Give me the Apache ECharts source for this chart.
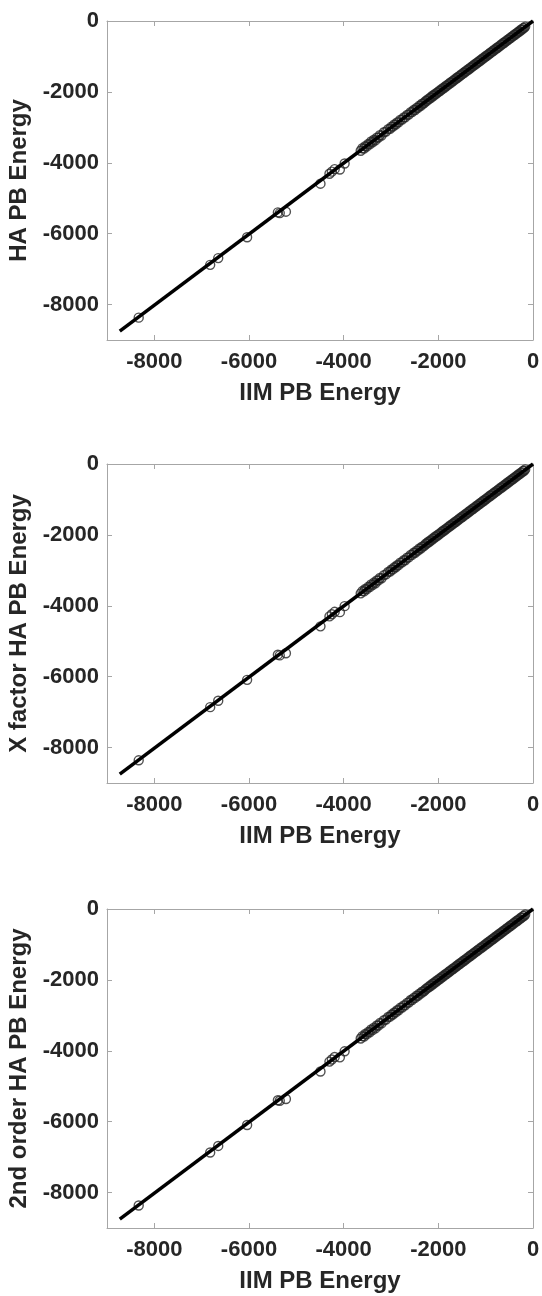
<!DOCTYPE html>
<html>
<head>
<meta charset="utf-8">
<script src="https://cdn.jsdelivr.net/npm/echarts@6/dist/echarts.min.js"></script>
<style>
html,body{margin:0;padding:0;background:#ffffff;}
#chart{width:542px;height:1296px;}
</style>
</head>
<body>
<div id="chart"></div>
<script>
// ---- data ----
const tickValues = [-8000, -6000, -4000, -2000, 0];
const xTitle = 'IIM PB Energy';
const yTitles = ['HA PB Energy', 'X factor HA PB Energy', '2nd order HA PB Energy'];

const iimEnergy = [
  -8330, -6820, -6650, -6040, -5390, -5350, -5220, -4490, -4300, -4250, -4190, -4080, -3980,
  -3640, -3605, -3570, -3545, -3515, -3480, -3450, -3420, -3390, -3360,
  -3330, -3300, -3265, -3235, -3200, -3150, -3105, -3060, -3020, -2990,
  -2960, -2930, -2900, -2870, -2840, -2805, -2765, -2730, -2700, -2660,
  -2625, -2585, -2555, -2520, -2490, -2460, -2430, -2400, -2370, -2345, -2315,
  -2290, -2265, -2242, -2218, -2195, -2170, -2148, -2123, -2100, -2077,
  -2052, -2030, -2006, -1983, -1960, -1936, -1912, -1890, -1866, -1843,
  -1820, -1796, -1772, -1750, -1726, -1703, -1680, -1656, -1632, -1610,
  -1586, -1563, -1540, -1516, -1492, -1470, -1446, -1423, -1400, -1376,
  -1352, -1330, -1306, -1283, -1260, -1236, -1212, -1190, -1166, -1143,
  -1120, -1096, -1072, -1050, -1026, -1003, -980, -956, -932, -910,
  -886, -863, -840, -816, -792, -770, -746, -723, -700, -676,
  -652, -630, -606, -583, -560, -536, -512, -490, -466, -443,
  -420, -396, -372, -350, -326, -303, -280, -256, -232, -210,
  -188, -165
];

const haEnergy = [
  -8370, -6880, -6690, -6100, -5400, -5420, -5380, -4590, -4310, -4250, -4180, -4190, -4020,
  -3660, -3590, -3600, -3530, -3540, -3470, -3480, -3400, -3420, -3350,
  -3370, -3290, -3290, -3220, -3230, -3140, -3120, -3050, -3040, -2980,
  -2980, -2920, -2920, -2860, -2860, -2790, -2780, -2720, -2720, -2650,
  -2640, -2570, -2570, -2510, -2510, -2450, -2450, -2390, -2390, -2335, -2330,
  -2300, -2255, -2250, -2205, -2205, -2160, -2160, -2110, -2110, -2065,
  -2062, -2020, -2015, -1975, -1970, -1925, -1920, -1880, -1875, -1835,
  -1830, -1788, -1780, -1740, -1735, -1695, -1688, -1648, -1640, -1602,
  -1594, -1555, -1548, -1508, -1500, -1462, -1454, -1415, -1408, -1368,
  -1360, -1322, -1314, -1275, -1268, -1228, -1220, -1182, -1174, -1135,
  -1128, -1088, -1080, -1042, -1034, -995, -988, -948, -940, -902,
  -894, -855, -848, -808, -800, -762, -754, -715, -708, -668,
  -660, -622, -614, -575, -568, -528, -520, -482, -474, -435,
  -428, -388, -380, -342, -334, -295, -288, -248, -240, -202,
  -196, -158
];

const xFactorHaEnergy = [
  -8360, -6860, -6680, -6090, -5380, -5400, -5340, -4580, -4300, -4240, -4170, -4180, -4010,
  -3650, -3585, -3595, -3525, -3535, -3465, -3475, -3395, -3415, -3345,
  -3365, -3285, -3285, -3215, -3225, -3135, -3115, -3045, -3035, -2975,
  -2975, -2915, -2915, -2855, -2855, -2785, -2775, -2715, -2715, -2645,
  -2635, -2565, -2565, -2505, -2505, -2445, -2445, -2385, -2385, -2330, -2325,
  -2295, -2250, -2245, -2200, -2200, -2155, -2155, -2105, -2105, -2060,
  -2057, -2015, -2010, -1970, -1965, -1920, -1915, -1875, -1870, -1830,
  -1825, -1783, -1775, -1735, -1730, -1690, -1683, -1643, -1635, -1597,
  -1589, -1550, -1543, -1503, -1495, -1457, -1449, -1410, -1403, -1363,
  -1355, -1317, -1309, -1270, -1263, -1223, -1215, -1177, -1169, -1130,
  -1123, -1083, -1075, -1037, -1029, -990, -983, -943, -935, -897,
  -889, -850, -843, -803, -795, -757, -749, -710, -703, -663,
  -655, -617, -609, -570, -563, -523, -515, -477, -469, -430,
  -423, -383, -375, -337, -329, -290, -283, -243, -235, -197,
  -191, -153
];

const secondOrderHaEnergy = [
  -8365, -6870, -6685, -6095, -5395, -5410, -5360, -4585, -4305, -4245, -4175, -4185, -4015,
  -3655, -3588, -3598, -3528, -3538, -3468, -3478, -3398, -3418, -3348,
  -3368, -3288, -3288, -3218, -3228, -3138, -3118, -3048, -3038, -2978,
  -2978, -2918, -2918, -2858, -2858, -2788, -2778, -2718, -2718, -2648,
  -2638, -2568, -2568, -2508, -2508, -2448, -2448, -2388, -2388, -2333, -2328,
  -2298, -2253, -2248, -2203, -2203, -2158, -2158, -2108, -2108, -2063,
  -2060, -2018, -2013, -1973, -1968, -1923, -1918, -1878, -1873, -1833,
  -1828, -1786, -1778, -1738, -1733, -1693, -1686, -1646, -1638, -1600,
  -1592, -1553, -1546, -1506, -1498, -1460, -1452, -1413, -1406, -1366,
  -1358, -1320, -1312, -1273, -1266, -1226, -1218, -1180, -1172, -1133,
  -1126, -1086, -1078, -1040, -1032, -993, -986, -946, -938, -900,
  -892, -853, -846, -806, -798, -760, -752, -713, -706, -666,
  -658, -620, -612, -573, -566, -526, -518, -480, -472, -433,
  -426, -386, -378, -340, -332, -293, -286, -246, -238, -200,
  -194, -156
];

const fitIIM = [-8730, 0];
const fitHA = [-8750, 0];

// ---- chart ----
const panels = [haEnergy, xFactorHaEnergy, secondOrderHaEnergy];
const gridTops = [21, 464, 909];
const fontFamily = '"Liberation Sans", Arial, Helvetica, sans-serif';
const axisColor = '#a6a6a6';
const textColor = '#262626';
const plain = v => String(v);

const grids = [], xAxes = [], yAxes = [], series = [];

panels.forEach((ys, i) => {
  grids.push({left: 107, right: 9, top: gridTops[i], height: 319, outerBoundsMode: 'none', containLabel: false});
  ['bottom', 'top'].forEach((pos, k) => {
    xAxes.push({
      type: 'value', gridIndex: i, position: pos, min: -9000, max: 0,
      axisLine: {show: true, onZero: false, lineStyle: {color: axisColor, width: 1}},
      axisTick: {show: true, inside: true, length: 5, customValues: tickValues, lineStyle: {color: axisColor, width: 1}},
      axisLabel: {show: k === 0, customValues: tickValues, formatter: plain, margin: 11, fontSize: 22, fontWeight: 'bold', color: textColor, fontFamily: fontFamily},
      splitLine: {show: false},
      name: k === 0 ? xTitle : '', nameLocation: 'middle', nameGap: 41,
      nameTextStyle: {fontSize: 24, fontWeight: 'bold', color: textColor, fontFamily: fontFamily}
    });
  });
  ['left', 'right'].forEach((pos, k) => {
    yAxes.push({
      type: 'value', gridIndex: i, position: pos, min: -9000, max: 0,
      axisLine: {show: true, onZero: false, lineStyle: {color: axisColor, width: 1}},
      axisTick: {show: true, inside: true, length: 5, customValues: tickValues, lineStyle: {color: axisColor, width: 1}},
      axisLabel: {show: k === 0, customValues: tickValues, formatter: plain, margin: 8, fontSize: 22, fontWeight: 'bold', color: textColor, fontFamily: fontFamily},
      splitLine: {show: false},
      name: k === 0 ? yTitles[i] : '', nameLocation: 'middle', nameGap: 63,
      nameTextStyle: {fontSize: 24, fontWeight: 'bold', color: textColor, fontFamily: fontFamily}
    });
  });
  series.push({
    type: 'scatter', xAxisIndex: 2 * i, yAxisIndex: 2 * i,
    symbol: 'circle', symbolSize: 9,
    itemStyle: {color: 'rgba(0,0,0,0)', borderColor: '#262626', borderWidth: 1.4},
    data: iimEnergy.map((x, k) => [x, ys[k]]),
    z: 2, silent: true, animation: false
  });
  series.push({
    type: 'line', xAxisIndex: 2 * i, yAxisIndex: 2 * i,
    symbol: 'none', lineStyle: {color: '#000000', width: 3.5},
    data: fitIIM.map((x, k) => [x, fitHA[k]]),
    z: 3, silent: true, animation: false
  });
});

const chart = echarts.init(document.getElementById('chart'), null, {renderer: 'canvas'});
chart.setOption({
  backgroundColor: '#ffffff',
  animation: false,
  grid: grids,
  xAxis: xAxes,
  yAxis: yAxes,
  series: series
});
</script>
</body>
</html>
